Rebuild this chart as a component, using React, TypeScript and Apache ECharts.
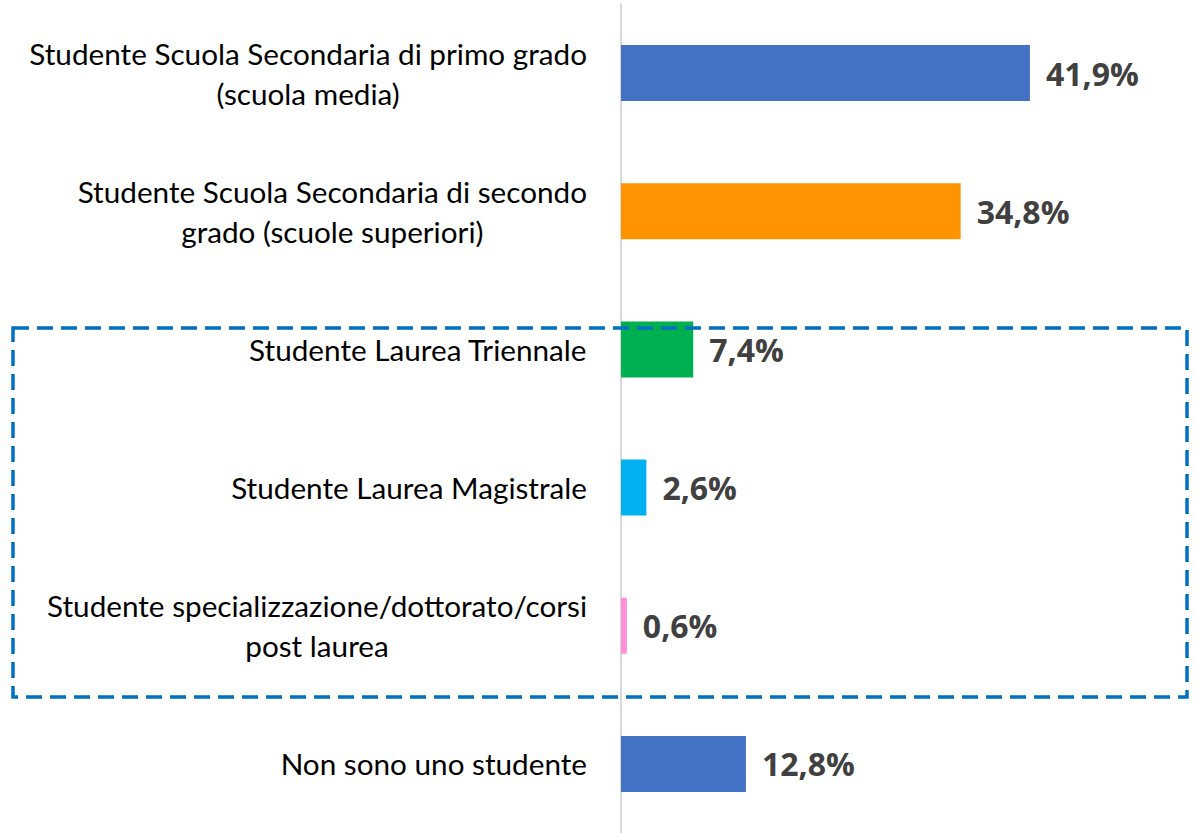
import React, { useEffect, useRef } from "react";
import * as echarts from "echarts";

const categories: string[] = [
  "Studente Scuola Secondaria di primo grado\n(scuola media)",
  "Studente Scuola Secondaria di secondo\ngrado (scuole superiori)",
  "Studente Laurea Triennale",
  "Studente Laurea Magistrale",
  "Studente specializzazione/dottorato/corsi\npost laurea",
  "Non sono uno studente",
];
const values: number[] = [41.9, 34.8, 7.4, 2.6, 0.6, 12.8];
const colors: string[] = ["#4472C4", "#FF9300", "#00B050", "#00B0F0", "#FF8FD8", "#4472C4"];

const LABEL_FONT = "Lato, sans-serif";
const VALUE_FONT = "'Open Sans', sans-serif";

export default function App() {
  const ref = useRef<HTMLDivElement>(null);
  useEffect(() => {
    if (!ref.current) return;
    const chart = echarts.init(ref.current, undefined, { renderer: "svg" });
    chart.setOption({
      animation: false,
      backgroundColor: "#ffffff",
      grid: { left: 621, width: 488, top: 4, height: 834, containLabel: false },
      xAxis: {
        type: "value",
        min: 0,
        max: 50,
        show: false,
      },
      yAxis: {
        type: "category",
        inverse: true,
        data: categories,
        axisLine: { show: true, lineStyle: { color: "#d9d9d9", width: 2 } },
        axisTick: { show: false },
        axisLabel: {
          margin: 34,
          align: "right",
          formatter: (v: string) =>
            v
              .split("\n")
              .map((l) => `{a|${l}}`)
              .join("\n"),
          rich: {
            a: {
              fontFamily: LABEL_FONT,
              fontSize: 29.7,
              color: "#000000",
              align: "center",
              lineHeight: 40,
            },
          },
        },
      },
      series: [
        {
          type: "bar",
          barWidth: 56,
          data: values.map((v, i) => ({ value: v, itemStyle: { color: colors[i] } })),
          label: {
            show: true,
            position: "right",
            distance: 16,
            fontFamily: VALUE_FONT,
            fontSize: 32,
            fontWeight: "bold",
            color: "#404040",
            formatter: (p: any) => p.value.toFixed(1).replace(".", ",") + "%",
          },
        },
      ],
      graphic: [
        {
          type: "rect",
          shape: { x: 13, y: 328, width: 1174, height: 369 },
          style: {
            fill: "none",
            stroke: "#0070C0",
            lineWidth: 3.5,
            lineDash: [16, 8],
          },
          z: 10,
        },
      ],
    });
    return () => chart.dispose();
  }, []);
  return (
    <div
      ref={ref}
      style={{ position: "absolute", left: 0, top: 0, width: 1197, height: 833 }}
    />
  );
}
